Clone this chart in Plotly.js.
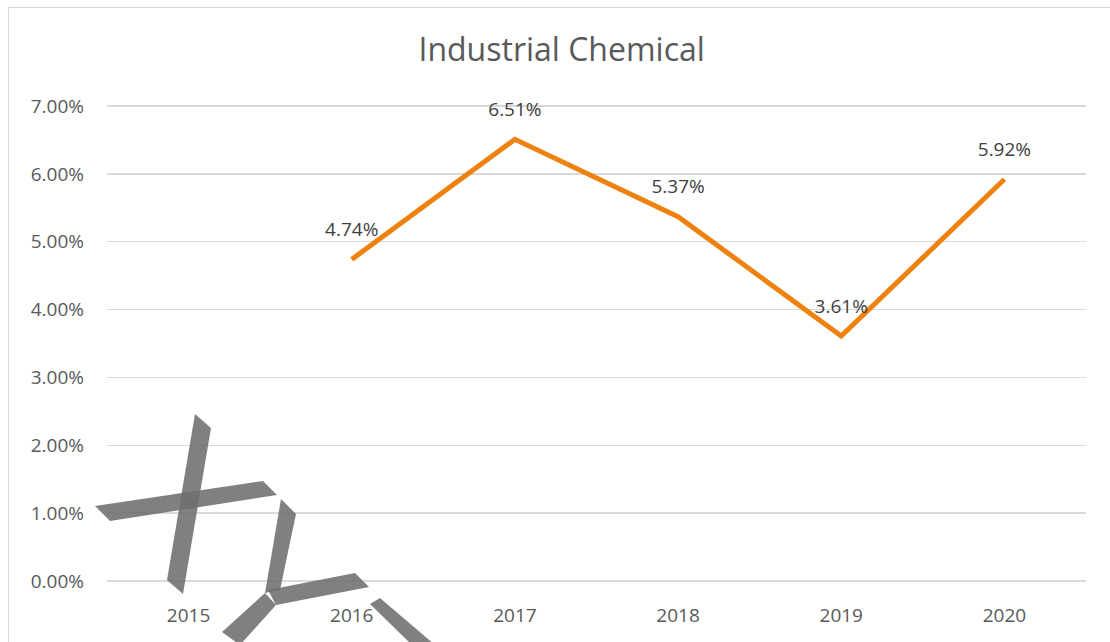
<!DOCTYPE html>
<html>
<head>
<meta charset="utf-8">
<script src="https://cdn.plot.ly/plotly-3.0.1.min.js"></script>
<style>
  html, body { margin: 0; padding: 0; background: #ffffff; }
  #wrap { position: relative; width: 1110px; height: 642px; overflow: hidden; }
  #chart { position: absolute; left: 0; top: 0; width: 1110px; height: 642px; }
  #frame { position: absolute; left: 8px; top: 7px; width: 1200px; height: 700px;
           border-left: 1px solid #d9d9d9; border-top: 1px solid #d9d9d9; pointer-events: none; }
  #mark { position: absolute; left: 0; top: 0; pointer-events: none; }
</style>
</head>
<body>
<div id="wrap">
  <div id="chart"></div>
  <div id="frame"></div>
  <svg id="mark" width="1110" height="642">
    <g fill="rgb(110,110,110)" fill-opacity="0.88">
      <polygon points="195,414 211,428 183,594 167,580"/>
      <polygon points="95,506 110,521 277,495 263,481"/>
      <polygon points="281,499 296,514 280,590 265,593"/>
      <polygon points="268,590 276,605 369,587 355,573"/>
      <polygon points="265,593 276,605 240,645 222,632"/>
      <polygon points="370,604 380,598 435,645 412,645"/>
    </g>
  </svg>
</div>
<script>
const title = "Industrial Chemical";
const years = ["2015", "2016", "2017", "2018", "2019", "2020"];
const growth = [null, 0.0474, 0.0651, 0.0537, 0.0361, 0.0592];
const labels = [null, "4.74%", "6.51%", "5.37%", "3.61%", "5.92%"];
const yTicks = [0, 0.01, 0.02, 0.03, 0.04, 0.05, 0.06, 0.07];

const FONT = "Open Sans, sans-serif";

const lineTrace = {
  type: "scatter",
  mode: "lines",
  x: years,
  y: growth,
  connectgaps: false,
  line: { color: "#EE820F", width: 5, shape: "linear" },
  hoverinfo: "skip"
};

const labelTrace = {
  type: "scatter",
  mode: "markers+text",
  x: years,
  y: growth,
  text: labels,
  textposition: "top center",
  textfont: { family: FONT, size: 19, color: "#404040" },
  marker: { size: 28, color: "rgba(0,0,0,0)", line: { width: 0 } },
  hoverinfo: "skip",
  cliponaxis: false
};

const layout = {
  width: 1110, height: 642,
  margin: { l: 107, r: 24, t: 104, b: 59 },
  paper_bgcolor: "#ffffff", plot_bgcolor: "#ffffff",
  showlegend: false,
  title: {
    text: title, xref: "container", x: 0.506, yref: "container", y: 1 - 50 / 642,
    xanchor: "center", yanchor: "middle",
    font: { family: FONT, size: 32, color: "#595959" }
  },
  xaxis: {
    type: "category", range: [-0.5, 5.5],
    showgrid: false, zeroline: false, showline: false, ticks: "",
    ticklabelstandoff: 19,
    tickfont: { family: FONT, size: 19, color: "#595959" }
  },
  yaxis: {
    range: [-0.0003, 0.0703], tickvals: yTicks, tickformat: ".2%",
    showgrid: true, gridcolor: "#d9d9d9", gridwidth: 1.3,
    zeroline: false, showline: false, ticks: "",
    ticklabelstandoff: 22,
    tickfont: { family: FONT, size: 19, color: "#595959" }
  }
};

Plotly.newPlot("chart", [lineTrace, labelTrace], layout, { staticPlot: true, displayModeBar: false });
</script>
</body>
</html>
